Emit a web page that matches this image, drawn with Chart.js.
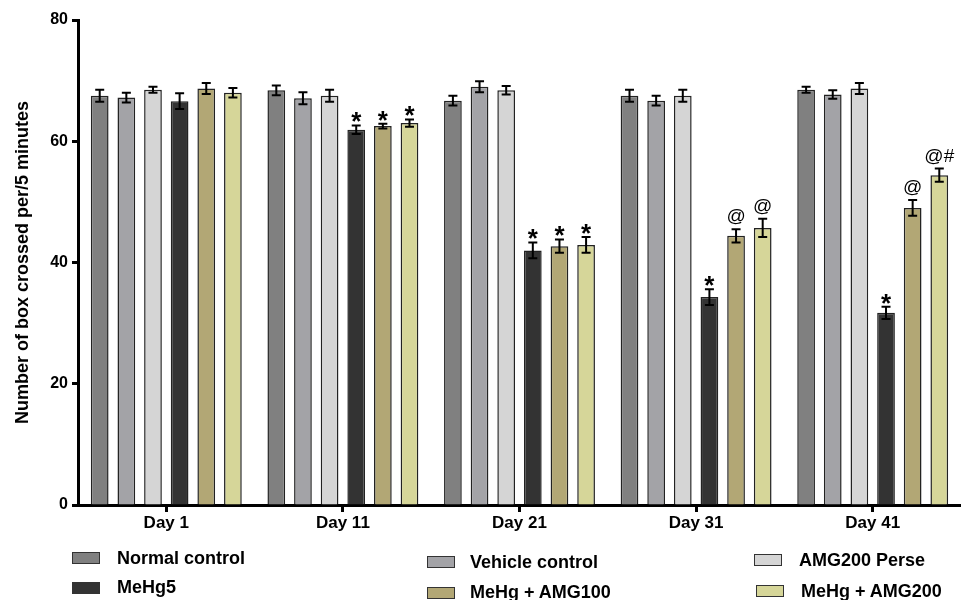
<!DOCTYPE html>
<html>
<head>
<meta charset="utf-8">
<script src="https://cdn.jsdelivr.net/npm/chart.js@4"></script>
<style>
  body { margin: 0; background: #fff; }
  #wrap { position: relative; width: 961px; height: 600px; overflow: hidden; }
  .leg { position: absolute; font: bold 18px "Liberation Sans", Arial, sans-serif; color: #000; line-height: 20px; white-space: nowrap; }
  .sw { position: absolute; width: 28px; height: 12px; box-sizing: border-box; border: 1.5px solid #333; }
</style>
</head>
<body>
<div id="wrap">
  <canvas id="barChart" width="961" height="600"></canvas>
</div>
<script>
  // data
  var days = ['Day 1', 'Day 11', 'Day 21', 'Day 31', 'Day 41'];
  var groupNames = ['Normal control', 'Vehicle control', 'AMG200 Perse', 'MeHg5', 'MeHg + AMG100', 'MeHg + AMG200'];

  var normalControl = [67.5, 68.4, 66.7, 67.5, 68.5];
  var vehicleControl = [67.2, 67.1, 69.0, 66.7, 67.7];
  var amg200Perse = [68.5, 67.5, 68.4, 67.5, 68.7];
  var meHg5 = [66.6, 61.9, 42.0, 34.3, 31.7];
  var meHgAmg100 = [68.7, 62.5, 42.7, 44.4, 49.0];
  var meHgAmg200 = [68.0, 63.0, 42.9, 45.7, 54.4];

  // SEM
  var normalErr = [1.0, 0.8, 0.8, 1.0, 0.5];
  var vehicleErr = [0.8, 1.0, 0.9, 0.8, 0.7];
  var perseErr = [0.5, 1.0, 0.7, 1.0, 0.9];
  var meHg5Err = [1.3, 0.7, 1.3, 1.3, 1.0];
  var amg100Err = [0.9, 0.4, 1.1, 1.1, 1.3];
  var amg200Err = [0.8, 0.6, 1.3, 1.5, 1.1];

  // significance marks
  var noMarks = ['', '', '', '', ''];
  var meHg5Marks = ['', '*', '*', '*', '*'];
  var amg100Marks = ['', '*', '*', '@', '@'];
  var amg200Marks = ['', '*', '*', '@', '@#'];

  var yTicks = [0, 20, 40, 60, 80];

  var colors = ['#808080', '#a3a3a7', '#d5d5d5', '#333333', '#b2a775', '#d6d699'];
  var values = [normalControl, vehicleControl, amg200Perse, meHg5, meHgAmg100, meHgAmg200];
  var errors = [normalErr, vehicleErr, perseErr, meHg5Err, amg100Err, amg200Err];
  var marks = [noMarks, noMarks, noMarks, meHg5Marks, amg100Marks, amg200Marks];

  var FONT = '"Liberation Sans", Arial, sans-serif';

  var datasets = groupNames.map(function (name, i) {
    return {
      label: name,
      data: values[i],
      backgroundColor: colors[i],
      borderColor: '#222',
      borderWidth: 1.5,
      categoryPercentage: 0.905,
      barPercentage: 0.665
    };
  });

  // error bars + stars/@ drawn from the bar elements and y scale
  var errorBars = {
    id: 'errorBars',
    afterDatasetsDraw: function (chart) {
      var ctx = chart.ctx;
      var y = chart.scales.y;
      ctx.save();
      chart.data.datasets.forEach(function (ds, i) {
        var meta = chart.getDatasetMeta(i);
        meta.data.forEach(function (bar, j) {
          var v = ds.data[j], e = errors[i][j];
          var top = y.getPixelForValue(v + e);
          var bot = y.getPixelForValue(v - e);
          ctx.strokeStyle = '#000';
          ctx.lineWidth = 2;
          ctx.beginPath();
          ctx.moveTo(bar.x, top); ctx.lineTo(bar.x, bot);
          ctx.moveTo(bar.x - 4.5, top); ctx.lineTo(bar.x + 4.5, top);
          ctx.moveTo(bar.x - 4.5, bot); ctx.lineTo(bar.x + 4.5, bot);
          ctx.stroke();

          var m = marks[i][j];
          if (!m) return;
          ctx.fillStyle = '#000';
          ctx.textAlign = 'center';
          ctx.textBaseline = 'alphabetic';
          if (m === '*') {
            ctx.font = 'bold 26px ' + FONT;
            ctx.fillText(m, bar.x, top + 5);
          } else {
            ctx.font = '19px ' + FONT;
            ctx.fillText(m, bar.x, top - 7);
          }
        });
      });
      ctx.restore();
    }
  };

  var barChart = new Chart(document.getElementById('barChart'), {
    type: 'bar',
    data: { labels: days, datasets: datasets },
    options: {
      responsive: false,
      animation: false,
      layout: { padding: { top: 20, left: 0, right: 0, bottom: 0 } },
      plugins: { legend: { display: false }, tooltip: { enabled: false } },
      scales: {
        x: {
          grid: { display: true, drawOnChartArea: false, offset: false, drawTicks: true, tickLength: 7, tickWidth: 3, tickColor: '#000' },
          border: { display: true, color: '#000', width: 3 },
          ticks: { color: '#000', font: { family: FONT, size: 17, weight: 'bold' }, padding: 1, maxRotation: 0 },
          afterFit: function (scale) { scale.height = 95; }
        },
        y: {
          min: 0,
          max: 80,
          afterBuildTicks: function (scale) {
            scale.ticks = yTicks.map(function (t) { return { value: t }; });
          },
          grid: { display: true, drawOnChartArea: false, drawTicks: true, tickLength: 6, tickWidth: 3, tickColor: '#000' },
          border: { display: true, color: '#000', width: 3 },
          ticks: { color: '#000', font: { family: FONT, size: 16, weight: 'bold' }, padding: 4 },
          title: {
            display: true,
            text: 'Number of box crossed per/5 minutes',
            color: '#000',
            font: { family: FONT, size: 18, weight: 'bold' },
            padding: { top: 12, bottom: 0 }
          },
          afterFit: function (scale) { scale.width = 78; }
        }
      }
    },
    plugins: [errorBars]
  });

  // legend laid out in three columns like the figure
  var legendPos = [
    { sx: 72, sy: 552, tx: 117, ty: 558 },
    { sx: 427, sy: 556, tx: 470, ty: 562 },
    { sx: 754, sy: 554, tx: 799, ty: 560 },
    { sx: 72, sy: 582, tx: 117, ty: 587 },
    { sx: 427, sy: 587, tx: 470, ty: 592 },
    { sx: 756, sy: 585, tx: 801, ty: 591 }
  ];
  var wrap = document.getElementById('wrap');
  groupNames.forEach(function (name, i) {
    var p = legendPos[i];
    var sw = document.createElement('div');
    sw.className = 'sw';
    sw.style.left = p.sx + 'px';
    sw.style.top = p.sy + 'px';
    sw.style.background = colors[i];
    wrap.appendChild(sw);
    var t = document.createElement('div');
    t.className = 'leg';
    t.style.left = p.tx + 'px';
    t.style.top = (p.ty - 10) + 'px';
    t.textContent = name;
    wrap.appendChild(t);
  });
</script>
</body>
</html>
